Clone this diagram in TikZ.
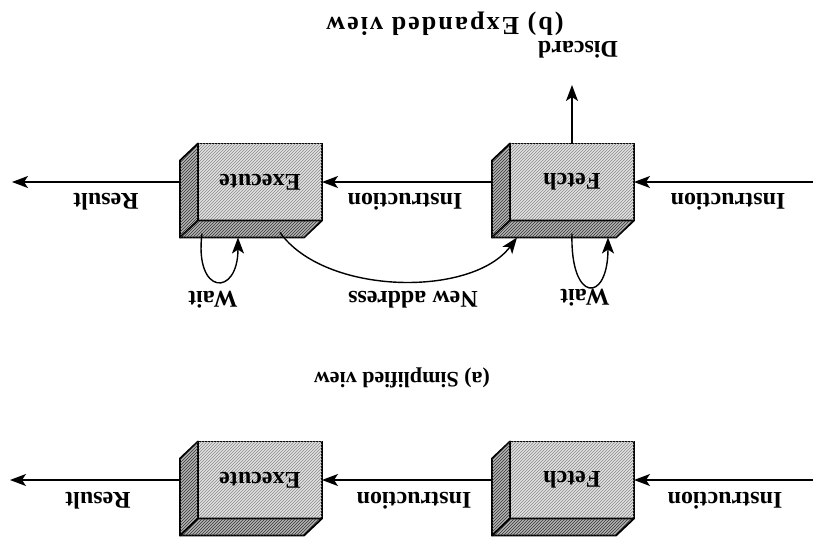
\documentclass[tikz,border=0pt]{standalone}
\usepackage{fontspec}
\setmainfont{Liberation Serif}
\usepackage{xcolor}
\usepackage{tikz}
\usetikzlibrary{calc,arrows.meta,positioning,patterns}
\definecolor{facec}{HTML}{E2E2E2}
\definecolor{sidec}{HTML}{B4B4B4}
\definecolor{hatchc}{HTML}{8A8A8A}
\tikzset{
  ar/.style={-{Stealth[length=16pt,width=12pt,inset=4pt]},line width=1.4pt},
  stage/.style={draw,line width=1.8pt,fill=facec,postaction={pattern=north east lines,pattern color=hatchc},
    minimum width=124pt,minimum height=77pt,outer sep=0pt,font=\fontsize{24}{27}\selectfont\bfseries},
  side/.style={draw,line width=1.8pt,line join=round,fill=sidec,postaction={pattern=north east lines,pattern color=black!80}},
  lbl/.style={font=\fontsize{24}{27}\selectfont\bfseries,inner sep=0pt}
}
\newcommand{\stagedepth}[1]{%
  \draw[side] (#1.south east) -- ++(18,17) -- ($(#1.north east)+(18,17)$) -- (#1.north east) -- cycle;
  \draw[side] (#1.north west) -- ++(18,17) -- ($(#1.north east)+(18,17)$) -- (#1.north east) -- cycle;
}

\begin{document}
\begin{tikzpicture}[x=1pt,y=1pt,rotate=180,transform shape]
\useasboundingbox (0,0) rectangle (813,538);
% (a) simplified view
\node[stage] (fa) at (241,480) {Fetch};
\node[stage] (ea) at (553,480) {Execute};
\stagedepth{fa}
\stagedepth{ea}
\coordinate (ina) at (0,480);
\coordinate (outa) at (803,480);
\draw[ar] (ina) -- (fa);
\draw[ar] ($(fa.east)+(18,0)$) -- (ea);
\draw[ar] ($(ea.east)+(18,0)$) -- (outa);
\node[lbl] (ia1) at (88,501) {Instruction};
\node[lbl] (ia2) at (399,501) {Instruction};
\node[lbl] (ra) at (715,501) {Result};
\node[lbl,font=\fontsize{22}{25}\selectfont\bfseries] (capa) at (411,378) {(a) Simplified view};
% (b) expanded view
\node[stage] (fb) at (241,182) {Fetch};
\node[stage] (eb) at (553,182) {Execute};
\stagedepth{fb}
\stagedepth{eb}
\coordinate (inb) at (0,182);
\coordinate (outb) at (801,182);
\coordinate (disc) at (241,85);
\draw[ar] (inb) -- (fb);
\draw[ar] ($(fb.east)+(18,0)$) -- (eb);
\draw[ar] ($(eb.east)+(18,0)$) -- (outb);
\draw[ar] (fb) -- (disc);
\node[lbl] (ib1) at (85,202) {Instruction};
\node[lbl] (ib2) at (408,202) {Instruction};
\node[lbl] (rb) at (707,202) {Result};
\node[lbl] (dl) at (235,50) {Discard};
% wait loops and new address
\coordinate (fw1) at ($(fb.north)+(0,13)$);
\coordinate (fw2) at ($(fb.north)+(-36,17)$);
\coordinate (ew1) at ($(eb.north)+(58,13)$);
\coordinate (ew2) at ($(eb.north)+(22,17)$);
\coordinate (na1) at ($(eb.north)+(-20,12)$);
\coordinate (na2) at ($(fb.north)+(55,17)$);
\draw[ar] (fw1) .. controls +(2,70) and +(0,66) .. (fw2);
\draw[ar] (ew1) .. controls +(8,62) and +(0,60) .. (ew2);
\draw[ar] (na1) .. controls +(-45,63) and +(45,60) .. (na2);
\node[lbl] (wf) at (228,298) {Wait};
\node[lbl] (we) at (600,300) {Wait};
\node[lbl] (nal) at (400,300) {New address};
\node[lbl,font=\fontsize{26}{29}\selectfont\bfseries\addfontfeature{LetterSpace=8}] (capb) at (368,24) {(b) Expanded view};
\end{tikzpicture}
\end{document}
